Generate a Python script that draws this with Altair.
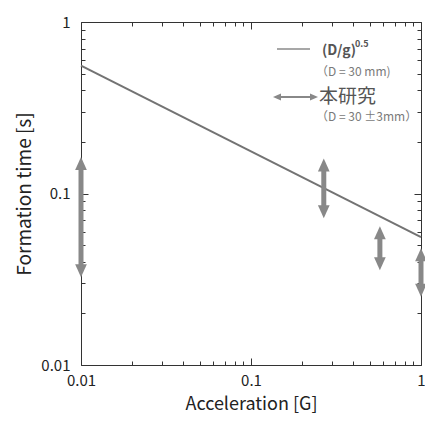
import altair as alt
import pandas as pd

# ---- data ----
line_x = [0.01, 1.0]
line_y = [0.556, 0.0556]

arrow_x = [0.01, 0.268, 0.573, 1.0]
arrow_lo = [0.0325, 0.0718, 0.0357, 0.025]
arrow_hi = [0.163, 0.160, 0.0645, 0.048]

major_ticks = [0.01, 0.1, 1]
minor_ticks = [0.02, 0.03, 0.04, 0.05, 0.06, 0.07, 0.08, 0.09,
               0.2, 0.3, 0.4, 0.5, 0.6, 0.7, 0.8, 0.9]

x_title = "Acceleration [G]"
y_title = "Formation time [s]"
legend_line_label = "(D/g)"
legend_line_exp = "0.5"
legend_line_sub = "（D = 30 mm)"
legend_arrow_label = "本研究"
legend_arrow_sub = "（D = 30 ±3mm）"

FONT = "Noto Sans CJK JP"
LINE_C = "#737373"
ARROW_C = "#888888"
TEXT_C = "#555555"
SUB_C = "#7a7a7a"

line_df = pd.DataFrame({"x": line_x, "y": line_y})
arrow_df = pd.DataFrame({"x": arrow_x, "lo": arrow_lo, "hi": arrow_hi})
one = pd.DataFrame({"k": [0]})

xs = alt.Scale(type="log", domain=[0.01, 1], nice=False, zero=False)
ys = alt.Scale(type="log", domain=[0.01, 1], nice=False, zero=False)

# main line with labelled axes
main = alt.Chart(line_df).mark_line(color=LINE_C, strokeWidth=2).encode(
    x=alt.X("x:Q", scale=xs, axis=alt.Axis(
        orient="bottom", values=major_ticks, format="~g", ticks=False, domain=False,
        grid=False, labelPadding=8, labelFlush=False, labelFontSize=15, labelFont=FONT,
        labelColor="#222222", title=x_title, titleFontSize=18, titleFont=FONT,
        titleFontWeight="normal", titleColor="#222222", titlePadding=7)),
    y=alt.Y("y:Q", scale=ys, axis=alt.Axis(
        orient="left", values=major_ticks, format="~g", ticks=False, domain=False,
        grid=False, labelPadding=11, labelFlush=False, labelFontSize=15, labelFont=FONT,
        labelColor="#222222", title=y_title, titleFontSize=19, titleFont=FONT,
        titleFontWeight="normal", titleColor="#222222", titlePadding=6)),
)


def tick_layer(values, size, xorient, yorient):
    def ax(orient):
        return alt.Axis(orient=orient, values=values, labels=False, domain=False,
                        grid=False, ticks=True, tickSize=size, offset=-size,
                        tickColor="#333333", tickWidth=1, title=None)
    return alt.Chart(line_df).mark_point(opacity=0).encode(
        x=alt.X("x:Q", scale=xs, axis=ax(xorient)),
        y=alt.Y("y:Q", scale=ys, axis=ax(yorient)),
    )


t1 = tick_layer(minor_ticks, 4, "bottom", "left")
t2 = tick_layer(major_ticks, 7, "bottom", "left")
t3 = tick_layer(minor_ticks, 4, "top", "right")
t4 = tick_layer(major_ticks, 7, "top", "right")

# data arrows
shaft = alt.Chart(arrow_df).mark_rule(color=ARROW_C, strokeWidth=5, yOffset=8, y2Offset=-8).encode(
    x=alt.X("x:Q", scale=xs, axis=None),
    y=alt.Y("hi:Q", scale=ys, axis=None),
    y2="lo:Q",
)
head_up = alt.Chart(arrow_df).mark_point(
    shape="M0,0L0.9,2L-0.9,2Z", size=169, filled=True, opacity=1, color=ARROW_C, strokeWidth=0
).encode(x=alt.X("x:Q", scale=xs, axis=None), y=alt.Y("hi:Q", scale=ys, axis=None))
head_down = alt.Chart(arrow_df).mark_point(
    shape="M0,0L0.9,-2L-0.9,-2Z", size=169, filled=True, opacity=1, color=ARROW_C, strokeWidth=0
).encode(x=alt.X("x:Q", scale=xs, axis=None), y=alt.Y("lo:Q", scale=ys, axis=None))

# legend (annotation, pixel positions inside plot)
leg_line = alt.Chart(one).mark_rule(color="#8a8a8a", strokeWidth=1.5).encode(
    x=alt.value(196), x2=alt.value(229), y=alt.value(27))
leg_arrow = alt.Chart(one).mark_rule(color=ARROW_C, strokeWidth=2).encode(
    x=alt.value(196), x2=alt.value(233), y=alt.value(75))
leg_head_l = alt.Chart(one).mark_point(
    shape="M0,0L2,0.9L2,-0.9Z", size=64, filled=True, opacity=1, color=ARROW_C, strokeWidth=0
).encode(x=alt.value(192), y=alt.value(75))
leg_head_r = alt.Chart(one).mark_point(
    shape="M0,0L-2,0.9L-2,-0.9Z", size=64, filled=True, opacity=1, color=ARROW_C, strokeWidth=0
).encode(x=alt.value(237), y=alt.value(75))


def txt(s, x, y, size, color, weight="normal"):
    return alt.Chart(one).mark_text(
        text=s, align="left", baseline="middle", font=FONT, fontSize=size,
        fontWeight=weight, color=color
    ).encode(x=alt.value(x), y=alt.value(y))


texts = [
    txt(legend_line_label, 241, 29, 14, TEXT_C, "bold"),
    txt(legend_line_exp, 274, 22, 9, TEXT_C, "bold"),
    txt(legend_line_sub, 235, 50, 12, SUB_C),
    txt(legend_arrow_label, 238, 75, 19, TEXT_C),
    txt(legend_arrow_sub, 235, 95, 12, SUB_C),
]

chart = alt.layer(
    main, t1, t2, t3, t4, shaft, head_up, head_down,
    leg_line, leg_arrow, leg_head_l, leg_head_r, *texts
).resolve_axis(x="independent", y="independent").properties(
    width=340, height=343,
    autosize=alt.AutoSizeParams(type="none"),
    padding={"left": 73, "top": 14, "right": 4, "bottom": 50},
).configure_view(stroke="#333333", strokeWidth=1)

chart.save("out.html", embed_options={"renderer": "svg", "actions": False})
